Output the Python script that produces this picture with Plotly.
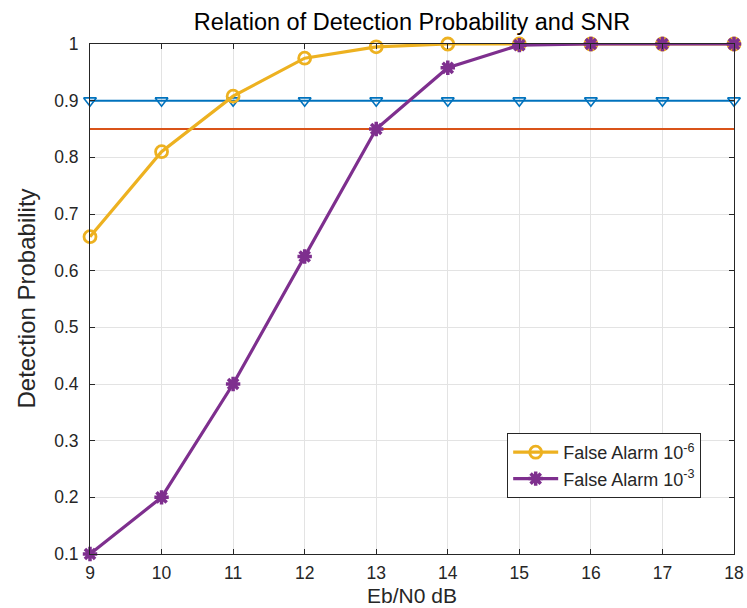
import plotly.graph_objects as go

snr = [9, 10, 11, 12, 13, 14, 15, 16, 17, 18]
pd_fa6 = [0.66, 0.81, 0.908, 0.975, 0.995, 1.0, 1.0, 1.0, 1.0, 1.0]
pd_fa3 = [0.1, 0.2, 0.4, 0.625, 0.85, 0.958, 0.998, 1.0, 1.0, 1.0]
ref_090 = [0.9] * len(snr)
ref_085 = [0.85] * len(snr)
yticks = [0.1, 0.2, 0.3, 0.4, 0.5, 0.6, 0.7, 0.8, 0.9, 1.0]
yticklabels = ["0.1", "0.2", "0.3", "0.4", "0.5", "0.6", "0.7", "0.8", "0.9", "1"]

font = "Liberation Sans, Arial, Helvetica, sans-serif"
W, H = 747, 608
L, R, T, B = 89.5, 13, 44, 54
PW, PH = W - L - R, H - T - B

fig = go.Figure()
fig.add_trace(go.Scatter(x=snr, y=ref_090, mode="lines+markers", showlegend=False,
                         line=dict(color="#0072BD", width=2),
                         marker=dict(symbol="triangle-down-open", size=11,
                                     color="#0072BD", line=dict(width=1.6, color="#0072BD")),
                         cliponaxis=False))
fig.add_trace(go.Scatter(x=snr, y=ref_085, mode="lines", showlegend=False,
                         line=dict(color="#D95319", width=2), cliponaxis=False))
fig.add_trace(go.Scatter(x=snr, y=pd_fa6, mode="lines+markers",
                         name="False Alarm 10<sup>-6</sup>",
                         line=dict(color="#EDB120", width=3.2),
                         marker=dict(symbol="circle-open", size=12, color="#EDB120",
                                     line=dict(width=2.8, color="#EDB120")),
                         cliponaxis=False))
fig.add_trace(go.Scatter(x=snr, y=pd_fa3, mode="lines+markers",
                         name="False Alarm 10<sup>-3</sup>",
                         line=dict(color="#7E2F8E", width=3.2),
                         marker=dict(symbol="asterisk-open", size=12, color="#7E2F8E",
                                     line=dict(width=3.5, color="#7E2F8E")),
                         cliponaxis=False))

axis_common = dict(showline=True, linecolor="#262626", linewidth=1, mirror="ticks",
                   ticks="inside", ticklen=5, tickcolor="#262626",
                   showgrid=True, gridcolor="#E3E3E3", gridwidth=1,
                   zeroline=False, automargin=False, ticklabeloverflow="allow",
                   tickfont=dict(family=font, size=17.5, color="#262626"))

fig.update_layout(
    width=W, height=H,
    margin=dict(l=L, r=R, t=T, b=B),
    paper_bgcolor="white", plot_bgcolor="white",
    title=dict(text="Relation of Detection Probability and SNR", x=412 / W, xanchor="center",
               y=1 - 22 / H, yanchor="middle",
               font=dict(family=font, size=23.5, color="black")),
    xaxis=dict(range=[9, 18], tickmode="array", tickvals=snr,
               ticklabelstandoff=3, **axis_common),
    yaxis=dict(range=[0.1, 1], tickmode="array", tickvals=yticks, ticktext=yticklabels,
               ticklabelstandoff=7, **axis_common),
    annotations=[
        dict(text="Detection Probability", textangle=-90,
             xref="paper", yref="paper", x=(25 - L) / PW, y=0.5,
             xanchor="center", yanchor="middle", showarrow=False,
             font=dict(family=font, size=24, color="#262626")),
        dict(text="Eb/N0 dB",
             xref="paper", yref="paper", x=0.5, y=(H - B - 607.5) / PH,
             xanchor="center", yanchor="bottom", showarrow=False, borderpad=0,
             font=dict(family=font, size=21, color="#262626")),
    ],
    legend=dict(x=(507 - L) / PW, y=(H - B - 433) / PH, xanchor="left", yanchor="top",
                bgcolor="white", bordercolor="#262626", borderwidth=1,
                font=dict(family=font, size=18, color="#262626"),
                itemwidth=45, tracegroupgap=0),
)

fig.write_html("out.html")
